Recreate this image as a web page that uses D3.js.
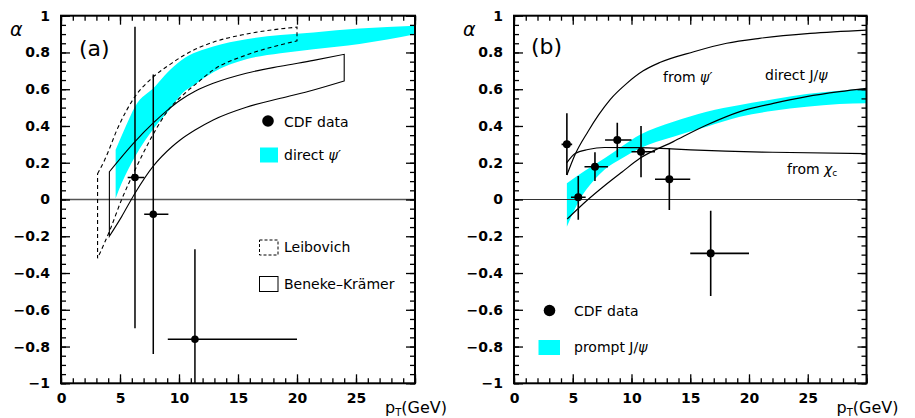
<!DOCTYPE html>
<html><head><meta charset="utf-8">
<script src="https://cdn.jsdelivr.net/npm/d3@7"></script>
<style>
html,body{margin:0;padding:0;background:#fff;}
svg text{font-family:"DejaVu Sans",sans-serif;}
</style></head>
<body>
<svg id="c" width="915" height="418"></svg>
<script>
// ---------------- DATA ----------------
// Panel (a): CDF psi' polarization data
const aPtX   = [6.27, 7.82, 11.35];
const aAlpha = [0.12, -0.08, -0.76];
const aXlo   = [5.65, 7.05, 9.05];
const aXhi   = [7.05, 9.1, 20.0];
const aYlo   = [-0.70, -0.84, -1.10];
const aYhi   = [0.94, 0.68, -0.27];

// direct psi' band (cyan)
const aBandUpper = [[4.63,0.27],[5.5,0.40],[6.27,0.505],[7.97,0.615],[9.0,0.69],[10.2,0.758],[12.9,0.832],[15.7,0.872],[18.6,0.895],[21.4,0.909],[25.3,0.93],[30,0.946]];
const aBandLower = [[4.63,0.006],[5.14,0.088],[6.27,0.233],[7.97,0.396],[9.4,0.505],[10.1,0.565],[11.4,0.628],[12.9,0.692],[15.7,0.763],[18.6,0.796],[21.4,0.818],[25.3,0.846],[30,0.899]];

// Leibovich band (dashed)
const leibUpper = [[3.1,0.14],[3.7,0.215],[4.86,0.396],[6.27,0.56],[7.7,0.66],[9.4,0.742],[10.5,0.788],[12.9,0.856],[15.7,0.9],[20,0.938]];
const leibLower = [[3.1,-0.32],[4.15,-0.166],[5.14,0.0],[6.27,0.16],[7.7,0.342],[9.1,0.487],[10.5,0.578],[11.5,0.632],[12.9,0.705],[15.7,0.786],[18.6,0.841],[20,0.863]];

// Beneke-Kraemer band (solid)
const bkUpper = [[4.1,0.151],[6.27,0.315],[7.8,0.415],[9.1,0.49],[10.1,0.54],[11.4,0.59],[12.9,0.632],[15.7,0.687],[18.6,0.725],[21.4,0.757],[24,0.79]];
const bkLower = [[4.1,-0.2],[5.14,-0.093],[6.27,0.034],[7.8,0.18],[9.4,0.287],[10.1,0.324],[11.36,0.378],[12.9,0.433],[15.7,0.502],[18.6,0.551],[21.4,0.596],[24,0.645]];

// Panel (b): CDF prompt J/psi data
const bPtX   = [4.5, 5.47, 6.89, 8.79, 10.81, 13.22, 16.74];
const bAlpha = [0.30, 0.012, 0.178, 0.324, 0.26, 0.11, -0.293];
const bXlo   = [4.05, 4.85, 6.0, 7.75, 10.0, 12.0, 15.0];
const bXhi   = [4.95, 6.1, 8.0, 10.0, 12.0, 15.0, 20.0];
const bYlo   = [0.133, -0.11, 0.10, 0.23, 0.121, -0.057, -0.525];
const bYhi   = [0.469, 0.128, 0.257, 0.418, 0.40, 0.279, -0.061];

// prompt J/psi band (cyan)
const bBandUpper = [[4.5,0.088],[6.0,0.155],[7.74,0.226],[9.2,0.29],[10.72,0.352],[13.56,0.423],[16.4,0.478],[19.23,0.514],[22.07,0.545],[24.9,0.574],[27.7,0.592],[30,0.605]];
const bBandLower = [[4.5,-0.148],[5.6,0.0],[6.75,0.1],[7.74,0.165],[9.2,0.225],[10.72,0.279],[13.56,0.342],[16.4,0.396],[19.23,0.45],[22.07,0.483],[24.9,0.505],[27.7,0.52],[30,0.524]];

// theory curves
const fromPsiP   = [[4.5,0.133],[5.2,0.245],[6.3,0.37],[7.2,0.46],[8.2,0.545],[9.6,0.632],[11,0.70],[12.4,0.745],[15.3,0.804],[18.1,0.85],[20.9,0.877],[25.2,0.904],[30,0.922]];
const fromChiC   = [[4.5,0.2],[5.2,0.25],[6.3,0.272],[7.7,0.283],[10.6,0.282],[13.4,0.275],[18,0.263],[22,0.257],[30,0.25]];
const directJpsi = [[4.53,-0.106],[6.3,0.0],[7.7,0.075],[9.2,0.15],[10.72,0.224],[13.56,0.315],[16.4,0.405],[19.23,0.478],[22.07,0.523],[24.9,0.56],[27.7,0.587],[30,0.605]];

// ticks
const xMajor = [0,5,10,15,20,25,30];
const xLabels = ["0","5","10","15","20","25",""];
const xMinor = d3.range(0,31,1);
const yMajor = [-1,-0.8,-0.6,-0.4,-0.2,0,0.2,0.4,0.6,0.8,1];
const yLabels = ["−1","−0.8","−0.6","−0.4","−0.2","0","0.2","0.4","0.6","0.8","1"];
const yMinor = d3.range(-20,21).map(i=>i*0.05);

// ---------------- LAYOUT ----------------
const svg = d3.select("#c");
svg.append("rect").attr("width",915).attr("height",418).attr("fill","#fff");
const TOP=15.7, BOT=383.3;
const panels = [
  {id:"a", x0:61, x1:415},
  {id:"b", x0:514, x1:866.5}
];
const y = d3.scaleLinear().domain([-1,1]).range([BOT,TOP]);
const CYAN = "#00ffff";
const curve = d3.curveMonotoneX;

function setupPanel(p){
  const x = d3.scaleLinear().domain([0,30]).range([p.x0,p.x1]);
  const g = svg.append("g");
  const clipId = "clip"+p.id;
  svg.append("clipPath").attr("id",clipId).append("rect")
    .attr("x",p.x0).attr("y",TOP).attr("width",p.x1-p.x0).attr("height",BOT-TOP);
  const plot = g.append("g").attr("clip-path",`url(#${clipId})`);
  return {x,g,plot};
}

function bandPath(x, upper, lower){
  const line = d3.line().x(d=>x(d[0])).y(d=>y(d[1])).curve(curve);
  const up = line(upper);
  const lo = line(lower.slice().reverse());
  return up + lo.replace(/^M/,"L") + "Z";
}

function outline(plot, x, upper, lower, dash){
  plot.append("path").attr("d", bandPath(x, upper, lower))
    .attr("fill","none").attr("stroke","#000").attr("stroke-width",1.1)
    .attr("stroke-dasharray",dash||null);
}

function drawAxes(p, x, g){
  const lab = s=>s.attr("font-size",14).attr("font-weight","bold").attr("fill","#000");
  const mk = (axis, tr) => {
    const a = g.append("g").attr("transform",tr).call(axis);
    a.select(".domain").remove();
    a.selectAll("line").attr("stroke","#000").attr("stroke-width",1.3);
    return a;
  };
  const la = mk(d3.axisLeft(y).tickValues(yMajor).tickSize(-9).tickPadding(11).tickFormat((d,i)=>yLabels[i]), `translate(${p.x0},0)`);
  la.selectAll("text").call(lab).attr("font-family","DejaVu Sans");
  mk(d3.axisLeft(y).tickValues(yMinor).tickSize(-5).tickFormat(""), `translate(${p.x0},0)`);
  mk(d3.axisRight(y).tickValues(yMajor).tickSize(-9).tickFormat(""), `translate(${p.x1},0)`);
  mk(d3.axisRight(y).tickValues(yMinor).tickSize(-5).tickFormat(""), `translate(${p.x1},0)`);
  const ba = mk(d3.axisBottom(x).tickValues(xMajor).tickSize(-9).tickPadding(10).tickFormat((d,i)=>xLabels[i]), `translate(0,${BOT})`);
  ba.selectAll("text").call(lab).attr("font-family","DejaVu Sans");
  mk(d3.axisBottom(x).tickValues(xMinor).tickSize(-5).tickFormat(""), `translate(0,${BOT})`);
  mk(d3.axisTop(x).tickValues(xMajor).tickSize(-9).tickFormat(""), `translate(0,${TOP})`);
  mk(d3.axisTop(x).tickValues(xMinor).tickSize(-5).tickFormat(""), `translate(0,${TOP})`);
  g.append("rect").attr("x",p.x0).attr("y",TOP).attr("width",p.x1-p.x0).attr("height",BOT-TOP)
    .attr("fill","none").attr("stroke","#000").attr("stroke-width",2);
  g.append("text").attr("x",p.x0-51).attr("y",36).attr("font-size",19).attr("font-style","italic").text("α");
  const t = g.append("text").attr("x",p.x1-30).attr("y",413).attr("font-size",16);
  t.append("tspan").text("p");
  t.append("tspan").attr("font-size",10).attr("dy",3).text("T");
  t.append("tspan").attr("dy",-3).text("(GeV)");
}

function errorBars(plot, x, X, Y, xlo, xhi, ylo, yhi, w, r){
  X.forEach((v,i)=>{
    plot.append("line").attr("x1",x(v)).attr("x2",x(v)).attr("y1",y(ylo[i])).attr("y2",y(yhi[i]))
      .attr("stroke","#000").attr("stroke-width",w);
    plot.append("line").attr("x1",x(xlo[i])).attr("x2",x(xhi[i])).attr("y1",y(Y[i])).attr("y2",y(Y[i]))
      .attr("stroke","#000").attr("stroke-width",w);
    plot.append("circle").attr("cx",x(v)).attr("cy",y(Y[i])).attr("r",r).attr("fill","#000");
  });
}

// ---------------- PANEL (a) ----------------
{
  const p = panels[0];
  const {x,g,plot} = setupPanel(p);
  plot.append("path").attr("d",bandPath(x,aBandUpper,aBandLower)).attr("fill",CYAN).attr("stroke","none");
  plot.append("line").attr("x1",p.x0).attr("x2",p.x1).attr("y1",y(0)).attr("y2",y(0)).attr("stroke","#555").attr("stroke-width",1.6);
  outline(plot,x,leibUpper,leibLower,"4,3");
  outline(plot,x,bkUpper,bkLower,null);
  errorBars(plot,x,aPtX,aAlpha,aXlo,aXhi,aYlo,aYhi,1.5,3.8);
  drawAxes(p,x,g);
  g.append("text").attr("x",79).attr("y",56).attr("font-size",22).text("(a)");
  g.append("circle").attr("cx",268).attr("cy",121).attr("r",5.8).attr("fill","#000");
  g.append("text").attr("x",284).attr("y",127).attr("font-size",14).text("CDF data");
  g.append("rect").attr("x",260).attr("y",147.5).attr("width",18).attr("height",15).attr("fill",CYAN);
  const t = g.append("text").attr("x",284).attr("y",160).attr("font-size",14);
  t.append("tspan").text("direct ");
  t.append("tspan").attr("font-style","italic").text("ψ′");
  g.append("rect").attr("x",259.5).attr("y",240).attr("width",18.5).attr("height",15)
    .attr("fill","none").attr("stroke","#000").attr("stroke-width",1).attr("stroke-dasharray","3,2");
  g.append("text").attr("x",284).attr("y",252).attr("font-size",14).text("Leibovich");
  g.append("rect").attr("x",259.5).attr("y",276.5).attr("width",18.5).attr("height",15)
    .attr("fill","none").attr("stroke","#000").attr("stroke-width",1);
  g.append("text").attr("x",284).attr("y",289).attr("font-size",14).text("Beneke–Krämer");
}

// ---------------- PANEL (b) ----------------
{
  const p = panels[1];
  const {x,g,plot} = setupPanel(p);
  plot.append("path").attr("d",bandPath(x,bBandUpper,bBandLower)).attr("fill",CYAN).attr("stroke","none");
  plot.append("line").attr("x1",p.x0).attr("x2",p.x1).attr("y1",y(0)).attr("y2",y(0)).attr("stroke","#333").attr("stroke-width",1.2);
  const line = d3.line().x(d=>x(d[0])).y(d=>y(d[1])).curve(curve);
  [fromPsiP, fromChiC, directJpsi].forEach(c=>{
    plot.append("path").attr("d",line(c)).attr("fill","none").attr("stroke","#000").attr("stroke-width",1.2);
  });
  errorBars(plot,x,bPtX,bAlpha,bXlo,bXhi,bYlo,bYhi,1.6,4);
  drawAxes(p,x,g);
  g.append("text").attr("x",531).attr("y",54).attr("font-size",22).text("(b)");
  const t1 = g.append("text").attr("x",663).attr("y",82).attr("font-size",14);
  t1.append("tspan").text("from ");
  t1.append("tspan").attr("font-style","italic").text("ψ′");
  const t2 = g.append("text").attr("x",765).attr("y",80).attr("font-size",14);
  t2.append("tspan").text("direct J/");
  t2.append("tspan").attr("font-style","italic").text("ψ");
  const t3 = g.append("text").attr("x",787).attr("y",174).attr("font-size",14);
  t3.append("tspan").text("from ");
  t3.append("tspan").attr("font-style","italic").text("χ");
  t3.append("tspan").attr("font-size",9).attr("dy",2).text("c");
  g.append("circle").attr("cx",549.5).attr("cy",310.5).attr("r",5.8).attr("fill","#000");
  g.append("text").attr("x",574).attr("y",316).attr("font-size",14).text("CDF data");
  g.append("rect").attr("x",538.5).attr("y",340).attr("width",21.5).attr("height",15).attr("fill",CYAN);
  const t4 = g.append("text").attr("x",574).attr("y",352).attr("font-size",14);
  t4.append("tspan").text("prompt J/");
  t4.append("tspan").attr("font-style","italic").text("ψ");
}
</script>
</body></html>
